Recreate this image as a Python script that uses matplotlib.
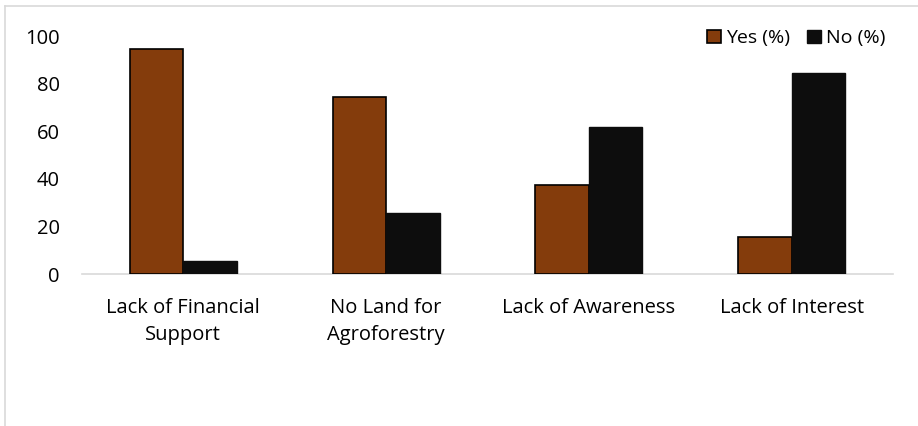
import matplotlib
matplotlib.use("Agg")
import matplotlib.pyplot as plt
import numpy as np
from matplotlib.lines import Line2D

categories = ["Lack of Financial\nSupport", "No Land for\nAgroforestry", "Lack of Awareness", "Lack of Interest"]
yes_vals = [94.5, 74.5, 37.2, 15.7]
no_vals = [5.5, 25.5, 61.8, 84.3]
series_names = ["Yes (%)", "No (%)"]
yticks = [0, 20, 40, 60, 80, 100]

plt.rcParams['font.family'] = ['Open Sans', 'DejaVu Sans']

fig = plt.figure(figsize=(9.18, 4.26), dpi=100)
ax = fig.add_axes([82/918, 1-274/426, (893-82)/918, (274-36)/426])

x = np.arange(len(categories))
w = 0.264
ax.bar(x - w/2, yes_vals, w, color="#843C0C", edgecolor="black", linewidth=1.2, label=series_names[0], zorder=3)
ax.bar(x + w/2, no_vals, w, color="#0D0D0D", edgecolor="#0D0D0D", linewidth=1.0, label=series_names[1], zorder=3)

ax.set_xlim(-0.5, len(categories) - 0.5)
ax.set_ylim(0, 100)
ax.set_yticks(yticks)
ax.set_xticks(x)
ax.set_xticklabels(categories, fontsize=14.5, linespacing=1.5)
ax.tick_params(axis='y', length=0, labelsize=14.5, pad=16)
ax.tick_params(axis='x', length=0, pad=17)
for s in ["top", "right", "left"]:
    ax.spines[s].set_visible(False)
ax.spines["bottom"].set_color("#d9d9d9")
ax.spines["bottom"].set_linewidth(1.2)

leg = ax.legend(loc="upper right", bbox_to_anchor=(1.0, 1.06), ncol=2, frameon=False, fontsize=14,
                handlelength=0.7, handleheight=0.7, handletextpad=0.25, columnspacing=0.9, borderaxespad=0)

# figure border (light gray)
fig.add_artist(Line2D([5/918, 1], [1-6/426, 1-6/426], color="#d9d9d9", linewidth=1.2, transform=fig.transFigure))
fig.add_artist(Line2D([5/918, 5/918], [0, 1-6/426], color="#d9d9d9", linewidth=1.2, transform=fig.transFigure))

fig.savefig("out.png", dpi=100, facecolor="white")
